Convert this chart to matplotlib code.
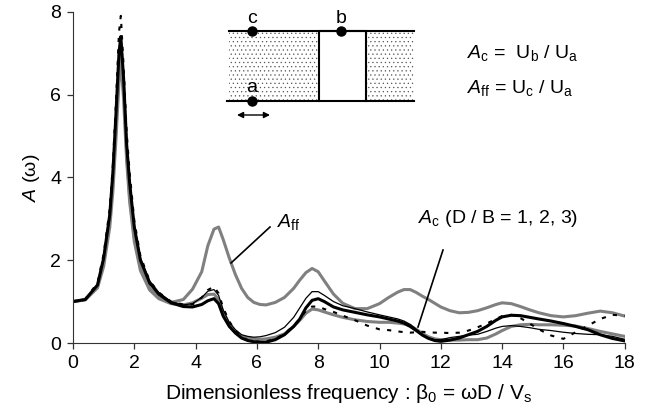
import matplotlib
matplotlib.use('Agg')
import matplotlib.pyplot as plt
from matplotlib.patches import Rectangle

plt.rcParams['font.family'] = ['Liberation Sans', 'DejaVu Sans']
plt.rcParams['mathtext.fontset'] = 'custom'
plt.rcParams['mathtext.rm'] = 'Liberation Sans'
plt.rcParams['mathtext.it'] = 'Liberation Sans:italic'
plt.rcParams['hatch.linewidth'] = 0.4
plt.rcParams['hatch.color'] = '#555555'

# values
beta = [0, .4, .8, 1.0, 1.2, 1.3, 1.4, 1.5, 1.56, 1.65,
        1.75, 1.85, 2.0, 2.2, 2.5, 2.8, 3.2, 3.6, 3.9, 4.2,
        4.4, 4.6, 4.75, 4.9, 5.1, 5.3, 5.5, 5.7, 5.9, 6.1,
        6.3, 6.6, 6.9, 7.2, 7.4, 7.6, 7.8, 8.0, 8.2, 8.5,
        8.8, 9.2, 9.6, 10, 10.3, 10.6, 10.8, 11, 11.2, 11.4,
        11.6, 11.8, 12, 12.3, 12.6, 12.9, 13.2, 13.5, 13.8, 14,
        14.3, 14.6, 14.9, 15.2, 15.6, 16, 16.4, 16.8, 17.2, 17.6,
        18]
a_ff = [1, 1.05, 1.38, 1.95, 3.0, 3.9, 5.2, 6.7, 7.25, 6.2,
        4.6, 3.5, 2.55, 1.82, 1.32, 1.1, .98, 1.05, 1.3, 1.72,
        2.35, 2.75, 2.8, 2.5, 2.05, 1.65, 1.32, 1.1, .98, .93,
        .92, .98, 1.1, 1.32, 1.52, 1.7, 1.8, 1.72, 1.5, 1.18,
        .96, .83, .83, .95, 1.1, 1.23, 1.29, 1.29, 1.22, 1.13,
        1.05, .96, .87, .78, .73, .74, .78, .85, .93, .97,
        .95, .88, .8, .73, .66, .63, .66, .72, .77, .73,
        .65]
a_c_thin = [1, 1.05, 1.4, 2.05, 3.1, 4.1, 5.5, 7.0, 7.4, 6.4,
            4.85, 3.9, 2.85, 2.05, 1.5, 1.22, 1.0, .92, .95, 1.1,
            1.25, 1.29, 1.15, .8, .5, .32, .2, .16, .14, .15,
            .18, .25, .38, .62, .85, 1.08, 1.24, 1.24, 1.15, 1.0,
            .9, .83, .75, .68, .63, .58, .53, .45, .33, .21,
            .12, .08, .08, .13, .16, .19, .21, .28, .36, .4,
            .42, .4, .37, .33, .3, .26, .23, .21, .2, .16,
            .09]
a_c_thick = [1, 1.05, 1.4, 2.05, 3.1, 4.1, 5.5, 7.0, 7.4, 6.4,
             4.8, 3.85, 2.8, 2.0, 1.45, 1.18, .97, .88, .87, .93,
             1.02, 1.07, .95, .65, .4, .24, .12, .06, .03, .02,
             .02, .08, .2, .4, .58, .85, 1.03, 1.07, 1.0, .87,
             .8, .74, .68, .63, .58, .53, .48, .4, .3, .19,
             .11, .06, .04, .07, .12, .2, .28, .4, .55, .63,
             .67, .66, .62, .58, .53, .47, .4, .32, .2, .11,
             .05]
a_c_gray = [1, 1.04, 1.33, 1.85, 2.8, 3.65, 4.9, 6.3, 6.8, 5.9,
            4.4, 3.4, 2.45, 1.75, 1.28, 1.07, .95, .92, .97, 1.08,
            1.17, 1.18, 1.05, .72, .42, .25, .16, .12, .1, .09,
            .1, .14, .22, .4, .55, .72, .82, .8, .75, .68,
            .62, .56, .52, .5, .5, .48, .46, .42, .33, .23,
            .15, .1, .08, .07, .07, .08, .08, .12, .22, .3,
            .4, .44, .45, .44, .44, .43, .41, .35, .28, .22,
            .16]
a_c_dash = [1, 1.06, 1.45, 2.15, 3.25, 4.3, 5.8, 7.5, 7.9, 6.7,
            5.1, 4.1, 2.95, 2.1, 1.5, 1.22, 1.0, .93, .93, 1.1,
            1.28, 1.36, 1.2, .85, .52, .3, .15, .07, .04, .03,
            .04, .1, .22, .42, .58, .78, .88, .88, .82, .75,
            .66, .55, .42, .33, .31, .28, .26, .25, .26, .27,
            .26, .25, .25, .24, .25, .3, .38, .47, .58, .65,
            .68, .6, .47, .33, .18, .1, .26, .42, .58, .68,
            .66]

x_ticks = [0, 2, 4, 6, 8, 10, 12, 14, 16, 18]
y_ticks = [0, 2, 4, 6, 8]

fig = plt.figure(figsize=(6.47, 4.12), dpi=100)
ax = fig.add_axes([73 / 647, 1 - 343 / 412, (624.7 - 73) / 647, (343 - 11.7) / 412])

ax.plot(beta, a_ff, color='#808080', lw=2.2)
ax.plot(beta, a_c_gray, color='#808080', lw=2.2)
ax.plot(beta, a_c_thick, color='black', lw=2.2)
ax.plot(beta, a_c_thin, color='black', lw=0.9)
ax.plot(beta, a_c_dash, color='black', lw=1.5, ls=(0, (2, 3.5)))

ax.set_xlim(0, 18)
ax.set_ylim(0, 8)
ax.set_xticks(x_ticks)
ax.set_yticks(y_ticks)
ax.tick_params(labelsize=14, length=4.5, width=0.9, color='#333333', pad=4)
ax.spines['top'].set_visible(False)
ax.spines['right'].set_visible(False)
ax.spines['left'].set_color('#333333')
ax.spines['bottom'].set_color('#333333')
ax.set_xlabel(r'Dimensionless frequency : $\mathrm{\beta_0}$ = $\mathrm{\omega}$D / V$_\mathrm{s}$', fontsize=15, labelpad=7)
ax.set_ylabel(r'$\mathit{A}$ ($\mathrm{\omega}$)', fontsize=14, labelpad=6)

# sketch and notes, in picture pixels
sk = fig.add_axes([0, 0, 1, 1], facecolor='none')
sk.set_xlim(0, 647)
sk.set_ylim(412, 0)
sk.axis('off')
sk.plot([270, 231], [227, 263], color='black', lw=1.2)
sk.plot([443, 418], [250, 327], color='black', lw=1.2)
sk.text(277, 222, r'$\mathit{A}_\mathrm{ff}$', fontsize=14, va='center')
sk.text(418, 218, r'$\mathit{A}_\mathrm{c}$ (D / B = 1, 2, 3)', fontsize=14, va='center')

sk.add_patch(Rectangle((229, 31), 90, 70, fc='white', lw=0, hatch='....'))
sk.add_patch(Rectangle((366, 31), 48, 70, fc='white', lw=0, hatch='....'))
sk.plot([229, 414], [31, 31], color='black', lw=1.5)
sk.plot([227, 414], [101, 101], color='black', lw=1.5)
sk.plot([319, 319, 366, 366], [101, 31, 31, 101], color='black', lw=1.5)
sk.plot([252, 341, 252], [31, 31, 101], 'o', color='black', ms=6.5)
sk.text(252, 27, 'c', fontsize=14, ha='center', va='bottom')
sk.text(341, 27, 'b', fontsize=14, ha='center', va='bottom')
sk.text(252, 96, 'a', fontsize=14, ha='center', va='bottom')
sk.annotate('', xy=(237, 115), xytext=(270, 115),
            arrowprops=dict(arrowstyle='<|-|>', color='black', lw=1, shrinkA=0, shrinkB=0, mutation_scale=9))
sk.text(467, 53, r'$\mathit{A}_\mathrm{c}$ =  U$_\mathrm{b}$ / U$_\mathrm{a}$', fontsize=14, va='center')
sk.text(467, 88, r'$\mathit{A}_\mathrm{ff}$ = U$_\mathrm{c}$ / U$_\mathrm{a}$', fontsize=14, va='center')

fig.savefig('out.png', dpi=100)
